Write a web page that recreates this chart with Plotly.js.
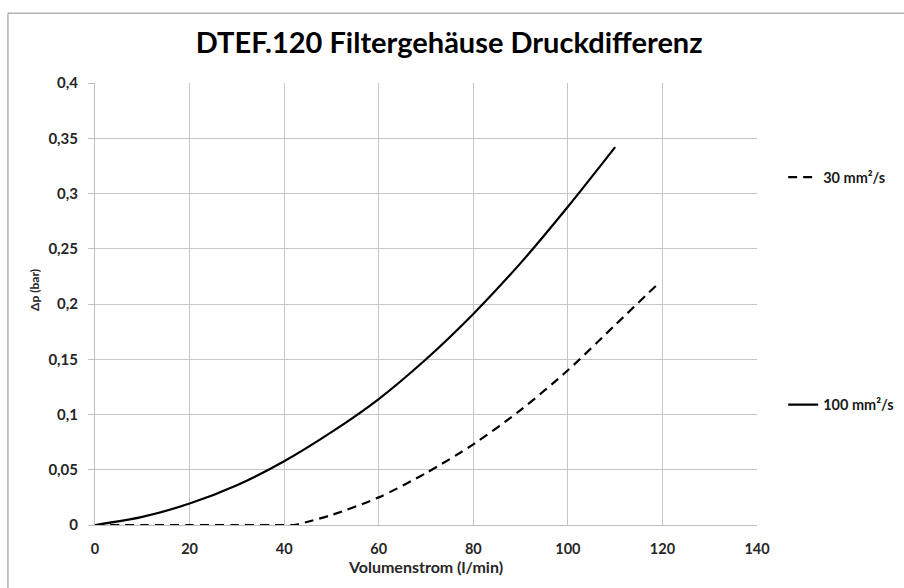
<!DOCTYPE html>
<html>
<head>
<meta charset="utf-8">
<script src="https://cdn.plot.ly/plotly-3.0.1.min.js"></script>
<style>
html,body{margin:0;padding:0;background:#fff;}
#chart{width:904px;height:588px;}
</style>
</head>
<body>
<div id="chart"></div>
<script>
// Data
const titleText = "DTEF.120 Filtergehäuse Druckdifferenz";
const xTitle = "Volumenstrom (l/min)";
const yTitle = "Δp (bar)";

const name30 = "30 mm²/s";
const x30 = [0, 10, 20, 30, 40, 42, 45, 50, 60, 70, 80, 90, 100, 110, 119];
const y30 = [0, 0, 0, 0, 0, 0, 0.003, 0.009, 0.025, 0.047, 0.073, 0.104, 0.140, 0.181, 0.218];

const name100 = "100 mm²/s";
const x100 = [0, 10, 20, 30, 40, 50, 60, 70, 80, 90, 100, 110];
const y100 = [0, 0.0073, 0.0194, 0.036, 0.0577, 0.084, 0.114, 0.150, 0.191, 0.237, 0.288, 0.342];

const xTickVals = [0, 20, 40, 60, 80, 100, 120, 140];
const yTickVals = [0, 0.05, 0.1, 0.15, 0.2, 0.25, 0.3, 0.35, 0.4];
const yTickText = ["0", "0,05", "0,1", "0,15", "0,2", "0,25", "0,3", "0,35", "0,4"];

const FONT = "Lato, 'Open Sans', sans-serif";

const traces = [
  {
    x: x30, y: y30, name: name30, type: "scatter", mode: "lines",
    line: {color: "#000000", width: 2.2, dash: "9px,6px", shape: "spline", smoothing: 0.8},
    legend: "legend"
  },
  {
    x: x100, y: y100, name: name100, type: "scatter", mode: "lines",
    line: {color: "#000000", width: 2.2, shape: "spline", smoothing: 0.8},
    legend: "legend2"
  }
];

const legendFont = {family: FONT, size: 14.5, color: "#1a1a1a", weight: "bold"};

const layout = {
  width: 904, height: 588,
  margin: {l: 95, r: 147, t: 82.5, b: 62.5, pad: 0, autoexpand: false},
  paper_bgcolor: "#ffffff", plot_bgcolor: "#ffffff",
  font: {family: FONT, color: "#262626"},
  title: {
    text: "<b>" + titleText + "</b>",
    font: {family: FONT, size: 29, color: "#000000"},
    x: 0.535, xref: "paper", xanchor: "center",
    y: 0.927, yref: "container", yanchor: "middle"
  },
  showlegend: true,
  legend: {
    x: 1.0395, xanchor: "left", y: 0.787, yanchor: "middle",
    font: legendFont, bgcolor: "rgba(0,0,0,0)", borderwidth: 0, itemwidth: 30
  },
  legend2: {
    x: 1.0395, xanchor: "left", y: 0.272, yanchor: "middle",
    font: legendFont, bgcolor: "rgba(0,0,0,0)", borderwidth: 0, itemwidth: 30
  },
  xaxis: {
    range: [0, 140], tickvals: xTickVals, ticktext: xTickVals.map(String),
    showgrid: true, gridcolor: "#c6c6c6", gridwidth: 1,
    showline: true, linecolor: "#bfbfbf", linewidth: 1,
    zeroline: false, ticks: "", ticklabelstandoff: 11,
    tickfont: {family: FONT, size: 14.5, color: "#262626", weight: "bold"},
    title: {text: "<b>" + xTitle + "</b>", font: {family: FONT, size: 16, color: "#262626"}, standoff: 4},
    fixedrange: true
  },
  yaxis: {
    range: [0, 0.4], tickvals: yTickVals, ticktext: yTickText,
    showgrid: true, gridcolor: "#c6c6c6", gridwidth: 1,
    showline: true, linecolor: "#bfbfbf", linewidth: 1,
    zeroline: false, ticks: "outside", ticklen: 6, tickcolor: "#bfbfbf",
    ticklabelstandoff: 7,
    tickfont: {family: FONT, size: 15, color: "#262626", weight: "bold"},
    fixedrange: true
  },
  annotations: [
    {text: "<b>" + yTitle + "</b>", xref: "paper", yref: "paper",
     x: -0.0906, y: 0.532, xanchor: "center", yanchor: "middle",
     textangle: -90, showarrow: false,
     font: {family: FONT, size: 12, color: "#262626"}}
  ],
  shapes: [
    {type: "rect", xref: "paper", yref: "paper", layer: "below",
     x0: -0.1315, x1: 1.25, y0: -0.2, y1: 1.158,
     line: {color: "#8c8c8c", width: 1}, fillcolor: "rgba(0,0,0,0)"}
  ]
};

Plotly.newPlot("chart", traces, layout, {displayModeBar: false, staticPlot: true});
</script>
</body>
</html>
